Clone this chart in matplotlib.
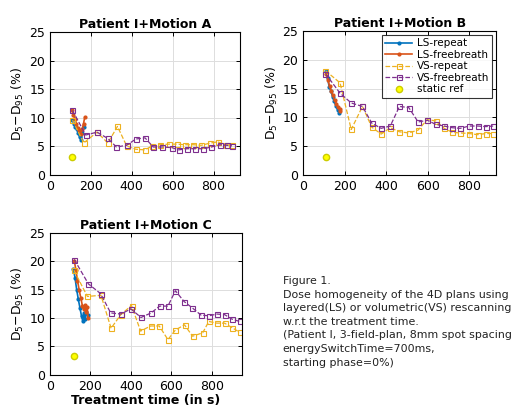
import matplotlib
matplotlib.use('Agg')
import matplotlib.pyplot as plt
import numpy as np

## COLOURS (MATLAB default order)
c_blue = (0.0, 0.447, 0.741)
c_orange = (0.85, 0.325, 0.098)
c_yellow = (0.929, 0.694, 0.125)
c_purple = (0.494, 0.184, 0.556)

## MOTION A
a_ls_rep_t = [110, 117, 124, 131, 138, 145, 152, 159, 166]
a_ls_rep_v = [9.7, 9.0, 8.4, 8.0, 7.3, 6.6, 6.1, 7.4, 8.4]
a_ls_fb_t = [108, 115, 122, 129, 136, 143, 150, 157, 164, 170]
a_ls_fb_v = [11.3, 10.5, 9.8, 9.0, 8.3, 7.8, 7.2, 8.0, 9.0, 10.1]
a_vs_rep_t = [110, 165, 230, 283, 330, 375, 420, 465, 500, 540, 580, 620, 660, 700, 740, 785, 820, 860, 890]
a_vs_rep_v = [9.6, 5.6, 7.5, 5.6, 8.5, 5.1, 4.5, 4.4, 5.1, 5.3, 5.4, 5.4, 5.3, 5.3, 5.2, 5.6, 5.8, 5.3, 5.3]
a_vs_fb_t = [110, 175, 230, 283, 325, 375, 420, 465, 505, 550, 595, 630, 670, 710, 750, 790, 830, 865, 890]
a_vs_fb_v = [11.3, 7.0, 7.5, 6.4, 4.9, 5.2, 6.3, 6.5, 4.9, 4.9, 4.8, 4.4, 4.6, 4.6, 4.6, 4.9, 5.3, 5.2, 5.1]
a_ref = (110, 3.2)

## MOTION B
b_ls_rep_t = [110, 118, 126, 134, 142, 150, 158, 166, 174]
b_ls_rep_v = [18.0, 16.8, 15.3, 14.6, 13.6, 12.8, 12.0, 11.3, 10.8]
b_ls_fb_t = [112, 120, 128, 136, 144, 152, 160, 168, 176, 180]
b_ls_fb_v = [17.6, 16.5, 15.4, 14.6, 13.8, 13.0, 12.4, 11.8, 11.4, 11.1]
b_vs_rep_t = [108, 178, 232, 286, 331, 376, 420, 464, 509, 554, 598, 638, 679, 719, 757, 800, 840, 880, 915]
b_vs_rep_v = [18.1, 16.0, 7.9, 11.9, 8.3, 7.1, 8.2, 7.5, 7.3, 7.8, 9.6, 9.4, 8.1, 7.4, 7.3, 7.2, 7.0, 7.2, 7.2]
b_vs_fb_t = [108, 178, 232, 286, 331, 376, 420, 464, 509, 554, 598, 638, 679, 719, 757, 800, 840, 880, 915]
b_vs_fb_v = [17.6, 14.2, 12.5, 11.9, 9.0, 8.1, 8.5, 11.9, 11.7, 9.2, 9.5, 8.8, 8.5, 8.2, 8.1, 8.5, 8.5, 8.4, 8.5]
b_ref = (110, 3.2)

## MOTION C
c_ls_rep_t = [116, 124, 132, 140, 148, 156, 162, 168, 174, 180, 186]
c_ls_rep_v = [18.6, 17.0, 15.0, 13.3, 11.8, 10.3, 9.5, 10.8, 9.8, 11.0, 10.5]
c_ls_fb_t = [120, 128, 136, 144, 152, 160, 166, 172, 178, 184, 188]
c_ls_fb_v = [20.1, 18.5, 16.6, 15.0, 13.6, 12.2, 11.6, 12.3, 11.0, 12.0, 10.0]
c_vs_rep_t = [118, 185, 252, 302, 350, 403, 448, 497, 540, 583, 620, 665, 705, 755, 785, 825, 863, 900, 937]
c_vs_rep_v = [18.4, 13.8, 14.0, 8.2, 10.6, 12.2, 7.7, 8.6, 8.6, 6.2, 7.9, 8.8, 6.8, 7.4, 9.4, 9.1, 9.1, 8.3, 7.5]
c_vs_fb_t = [120, 190, 250, 300, 350, 400, 450, 500, 542, 583, 620, 663, 703, 747, 787, 825, 863, 900, 937]
c_vs_fb_v = [20.3, 16.0, 14.3, 10.9, 10.7, 11.6, 10.1, 10.9, 12.1, 12.1, 14.8, 12.9, 11.8, 10.5, 10.4, 10.7, 10.6, 9.8, 9.4]
c_ref = (120, 3.3)

titles = ['Patient I+Motion A', 'Patient I+Motion B', 'Patient I+Motion C']
legend_labels = ['LS-repeat', 'LS-freebreath', 'VS-repeat', 'VS-freebreath', 'static ref']
caption = ('Figure 1.\n'
           'Dose homogeneity of the 4D plans using\n'
           'layered(LS) or volumetric(VS) rescanning\n'
           'w.r.t the treatment time.\n'
           '(Patient I, 3-field-plan, 8mm spot spacing\n'
           'energySwitchTime=700ms,\n'
           'starting phase=0%)')

datasets = [
    (a_ls_rep_t, a_ls_rep_v, a_ls_fb_t, a_ls_fb_v, a_vs_rep_t, a_vs_rep_v, a_vs_fb_t, a_vs_fb_v, a_ref),
    (b_ls_rep_t, b_ls_rep_v, b_ls_fb_t, b_ls_fb_v, b_vs_rep_t, b_vs_rep_v, b_vs_fb_t, b_vs_fb_v, b_ref),
    (c_ls_rep_t, c_ls_rep_v, c_ls_fb_t, c_ls_fb_v, c_vs_rep_t, c_vs_rep_v, c_vs_fb_t, c_vs_fb_v, c_ref),
]

fig = plt.figure(figsize=(5.18, 4.07), dpi=100)
rects = [
    [0.0965, 0.570, 0.367, 0.351],
    [0.585, 0.570, 0.373, 0.354],
    [0.0965, 0.079, 0.371, 0.349],
]
xmaxes = [930, 930, 950]

for i, (rect, d) in enumerate(zip(rects, datasets)):
    ax = fig.add_axes(rect)
    lrt, lrv, lft, lfv, vrt, vrv, vft, vfv, ref = d
    ax.plot(lrt, lrv, '-', marker='.', color=c_blue, lw=1.2, ms=4, label=legend_labels[0])
    ax.plot(lft, lfv, '-', marker='.', color=c_orange, lw=1.2, ms=4, label=legend_labels[1])
    ax.plot(vrt, vrv, '--', marker='s', color=c_yellow, mfc='none', lw=0.9, ms=3.6, mew=0.8,
            label=legend_labels[2])
    ax.plot(vft, vfv, '--', marker='s', color=c_purple, mfc='none', lw=0.9, ms=3.6, mew=0.8,
            label=legend_labels[3])
    ax.plot([ref[0]], [ref[1]], 'o', color='yellow', mec=(0.8, 0.8, 0.0), ms=4.5,
            label=legend_labels[4], linestyle='none')
    ax.set_xlim(0, xmaxes[i])
    ax.set_ylim(0, 25)
    ax.set_xticks([0, 200, 400, 600, 800])
    ax.set_yticks([0, 5, 10, 15, 20, 25])
    ax.grid(True, color='#dddddd', lw=0.7)
    ax.set_axisbelow(True)
    ax.tick_params(direction='in', length=3, labelsize=9, width=0.7, top=True, right=True)
    for s in ax.spines.values():
        s.set_linewidth(0.8)
    ax.set_title(titles[i], fontsize=9, fontweight='bold', pad=3)
    ax.set_ylabel('D$_5$$-$D$_{95}$ (%)', fontsize=9, labelpad=2)
    if i == 1:
        leg = ax.legend(loc='upper right', fontsize=7.5, frameon=True, fancybox=False,
                        edgecolor='black', borderpad=0.3, labelspacing=0.15,
                        handlelength=2.6, handletextpad=0.4, borderaxespad=0.4)
        leg.get_frame().set_linewidth(0.8)
    if i == 2:
        ax.set_xlabel('Treatment time (in s)', fontsize=9, fontweight='bold', labelpad=1)

fig.text(0.546, 0.322, caption, fontsize=7.9, va='top', ha='left', color='#222222',
         linespacing=1.45)

plt.savefig('out.png', dpi=100)
